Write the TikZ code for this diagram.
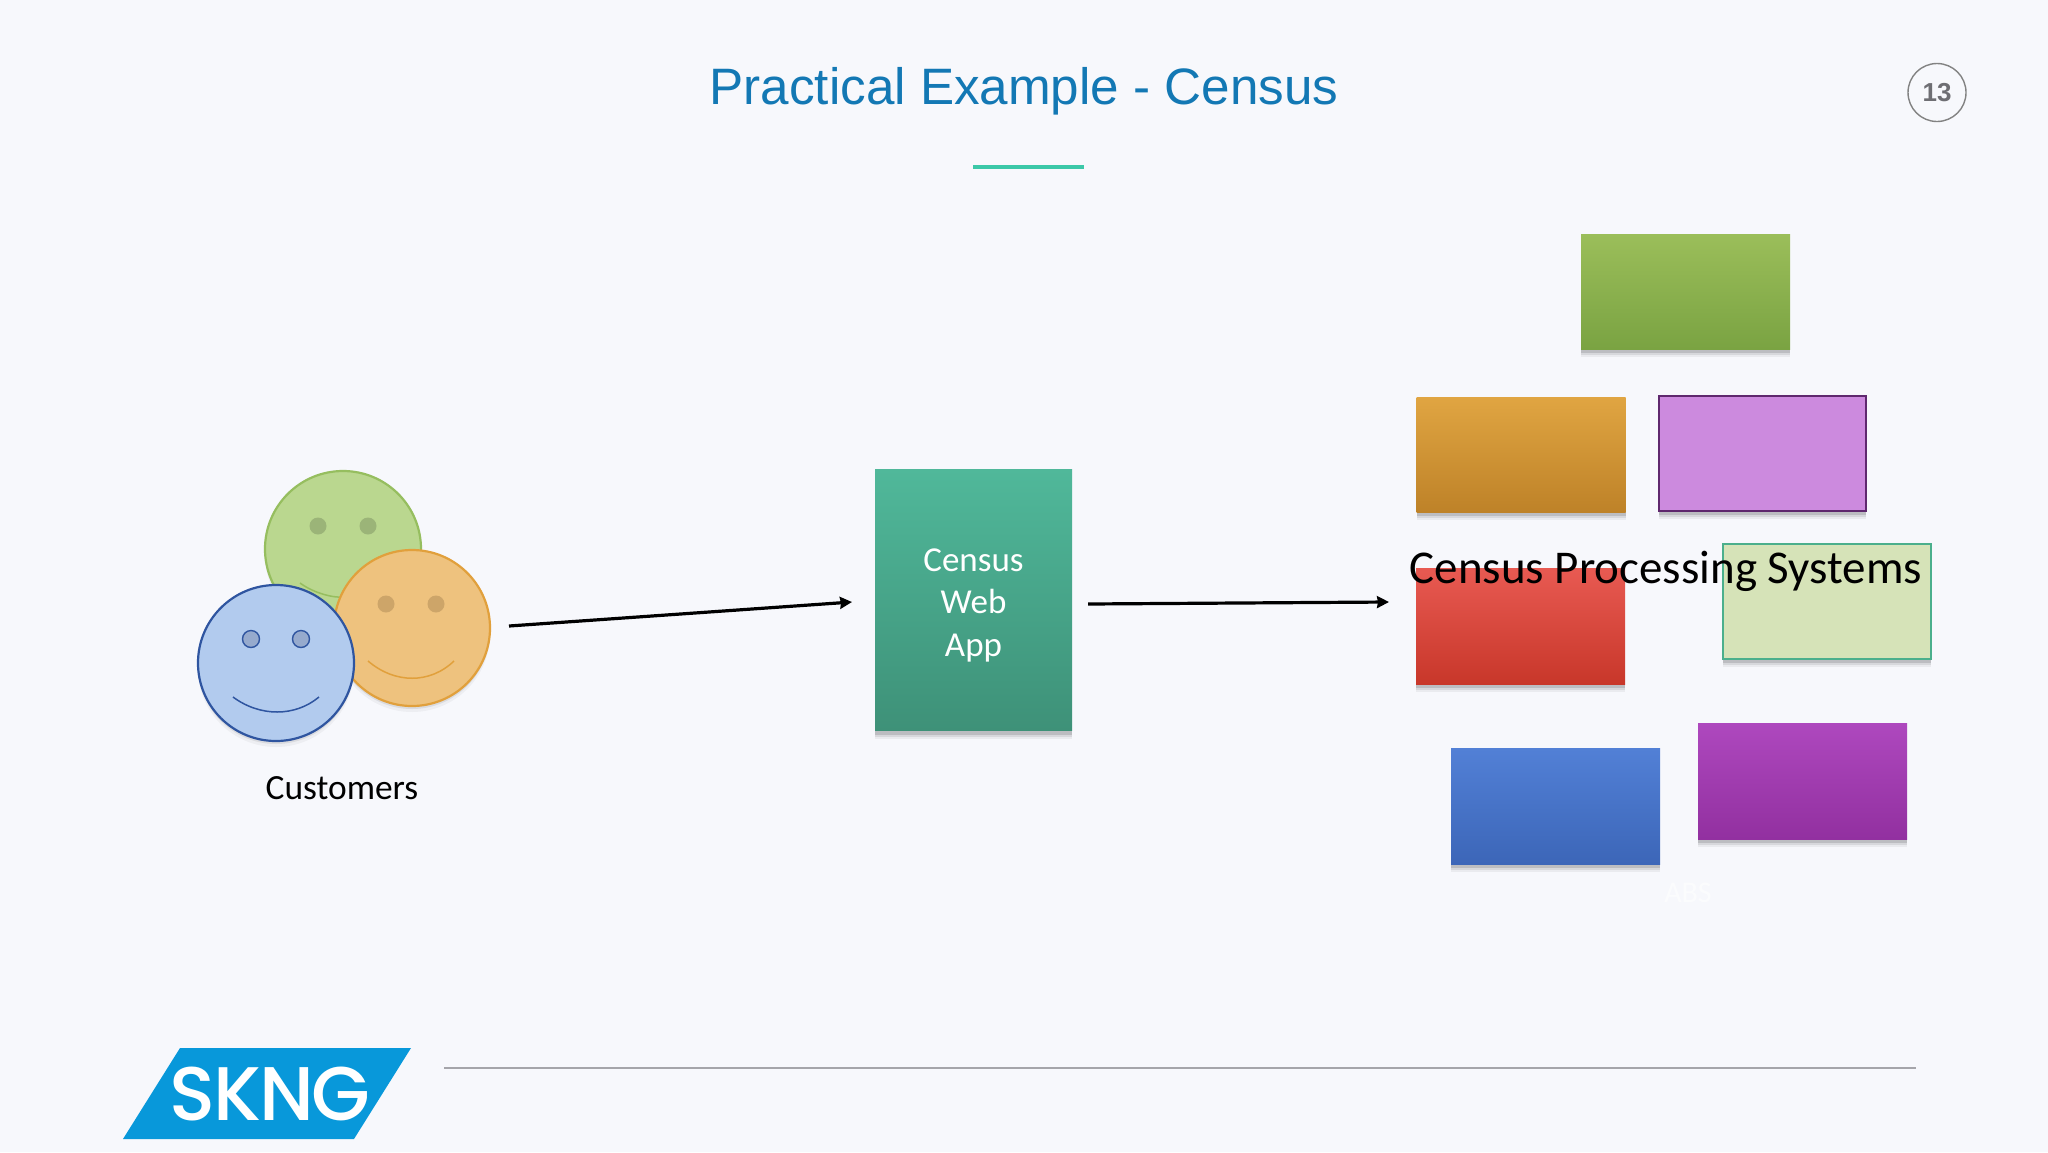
\documentclass[tikz,border=0pt]{standalone}
\usepackage{fontspec}
\setmainfont{Carlito}
\newfontfamily\arialf{Liberation Sans}
\newfontfamily\logof[LetterSpace=-3]{Poppins Medium}
\usetikzlibrary{shadows,arrows.meta}
\definecolor{bgc}{HTML}{F7F8FC}
\definecolor{titlec}{HTML}{1378B4}
\tikzset{
  softshadow/.style={
    general shadow={fill=black,opacity=.05,shadow yshift=-8pt},
    general shadow={fill=black,opacity=.08,shadow yshift=-6pt},
    general shadow={fill=black,opacity=.12,shadow yshift=-4pt}},
  faceshadow/.style={
    general shadow={fill=black,opacity=.04,shadow yshift=-6pt},
    general shadow={fill=black,opacity=.08,shadow yshift=-3pt}},
  blockbox/.style={rectangle,inner sep=0pt,outer sep=0pt,softshadow},
  face/.style={circle,inner sep=0pt,outer sep=0pt,minimum size=156pt,line width=2.2pt,faceshadow},
  eye/.style={circle,inner sep=0pt,outer sep=0pt,minimum size=17pt,line width=1.4pt},
  flow/.style={draw=black,line width=3.2pt,-{Stealth[length=12pt,width=12pt,inset=1pt]}},
  label/.style={inner sep=0pt,outer sep=0pt,align=center}
}
\begin{document}
\begin{tikzpicture}[x=1pt,y=-1pt]
\useasboundingbox (0,0) rectangle (2048,1152);
\fill[bgc] (0,0) rectangle (2048,1152);

% title
\node[label,text=titlec] (title) at (1024,91) {\arialf\fontsize{51.2}{60}\selectfont Practical Example - Census};
\coordinate (ruleA) at (973,167);
\coordinate (ruleB) at (1084,167);
\draw[line width=3.4pt,draw={rgb,255:red,60;green,200;blue,168}] (ruleA) -- (ruleB);
\node[circle,draw={rgb,255:red,130;green,130;blue,130},line width=1.4pt,minimum size=58pt,inner sep=0pt,text={rgb,255:red,110;green,110;blue,115}] (page) at (1937,92.5) {\arialf\bfseries\fontsize{26}{30}\selectfont 13};

% faces
\node[face,fill={rgb,255:red,186;green,215;blue,143},draw={rgb,255:red,150;green,190;blue,95}] (green) at (343,549) {};
\node[eye,fill={rgb,255:red,155;green,180;blue,120}] (ge1) at (318,526) {};
\node[eye,fill={rgb,255:red,155;green,180;blue,120}] (ge2) at (368,526) {};
\draw[line width=1.5pt,draw={rgb,255:red,150;green,190;blue,95}] (300,583) .. controls (315,594) and (335,598) .. (343,597);
\node[face,fill={rgb,255:red,238;green,194;blue,126},draw={rgb,255:red,225;green,160;blue,60}] (orange) at (412,628) {};
\node[eye,fill={rgb,255:red,205;green,165;blue,105}] (oe1) at (386,604) {};
\node[eye,fill={rgb,255:red,205;green,165;blue,105}] (oe2) at (436,604) {};
\draw[line width=1.5pt,draw={rgb,255:red,225;green,160;blue,60}] (368,661) .. controls (395,684) and (430,684) .. (454,661);
\node[face,fill={rgb,255:red,178;green,203;blue,238},draw={rgb,255:red,47;green,85;blue,160}] (blue) at (276,663) {};
\node[eye,fill={rgb,255:red,150;green,170;blue,205},draw={rgb,255:red,47;green,85;blue,160}] (be1) at (251,639) {};
\node[eye,fill={rgb,255:red,150;green,170;blue,205},draw={rgb,255:red,47;green,85;blue,160}] (be2) at (301,639) {};
\draw[line width=1.5pt,draw={rgb,255:red,47;green,85;blue,160}] (233,697) .. controls (260,717) and (295,717) .. (319,697);
\node[label,font=\fontsize{35.4}{40}\selectfont] (cust) at (342,788) {Customers};

% web app
\node[blockbox,minimum width=197pt,minimum height=261pt,top color={rgb,255:red,80;green,184;blue,154},bottom color={rgb,255:red,62;green,145;blue,120}] (app) at (973.5,600) {};
\node[label,text=white,font=\fontsize{35}{42.5}\selectfont] (appt) at (973.5,605) {Census\\Web\\App};

% systems
\node[blockbox,minimum width=209pt,minimum height=115pt,top color={rgb,255:red,155;green,190;blue,90},bottom color={rgb,255:red,122;green,163;blue,66}] (sgreen) at (1685.5,291.5) {};
\node[blockbox,minimum width=209pt,minimum height=115pt,top color={rgb,255:red,224;green,165;blue,66},bottom color={rgb,255:red,190;green,130;blue,40}] (sorange) at (1521,454.5) {};
\node[blockbox,minimum width=207pt,minimum height=115pt,fill={rgb,255:red,204;green,138;blue,222},draw={rgb,255:red,95;green,40;blue,110},line width=1.6pt] (sviolet) at (1762.5,453.5) {};
\node[blockbox,minimum width=209pt,minimum height=116pt,top color={rgb,255:red,232;green,90;blue,82},bottom color={rgb,255:red,200;green,55;blue,42}] (sred) at (1520.5,626) {};
\node[blockbox,minimum width=208pt,minimum height=115pt,fill={rgb,255:red,214;green,227;blue,184},draw={rgb,255:red,75;green,175;blue,140},line width=2pt] (slight) at (1827,601) {};
\node[blockbox,minimum width=209pt,minimum height=116pt,top color={rgb,255:red,82;green,128;blue,214},bottom color={rgb,255:red,60;green,102;blue,184}] (sblue) at (1555.5,806) {};
\node[blockbox,minimum width=209pt,minimum height=116pt,top color={rgb,255:red,174;green,72;blue,190},bottom color={rgb,255:red,146;green,48;blue,160}] (spurple) at (1802.5,781) {};
\node[label,font=\fontsize{47}{52}\selectfont] (systems) at (1666,571.5) {Census Processing Systems};
\node[label,text=white,opacity=.6,font=\fontsize{30}{34}\selectfont] (abs) at (1688,893) {ABS};

% connectors
\coordinate (flowA) at (509,626);
\coordinate (flowB) at (852,602);
\coordinate (flowC) at (1088,604);
\coordinate (flowD) at (1389,602);
\draw[flow] (flowA) -- (flowB);
\draw[flow] (flowC) -- (flowD);

% footer
\coordinate (footA) at (444,1068);
\coordinate (footB) at (1916,1068);
\draw[line width=1.2pt,draw={rgb,255:red,165;green,165;blue,170}] (footA) -- (footB);
\fill[fill={rgb,255:red,8;green,152;blue,218}] (180,1048) -- (411,1048) -- (354,1139) -- (123,1139) -- cycle;
\node[label,text=white,font=\logof\fontsize{76}{84}\selectfont] (logo) at (270,1094) {SKNG};
\end{tikzpicture}
\end{document}
